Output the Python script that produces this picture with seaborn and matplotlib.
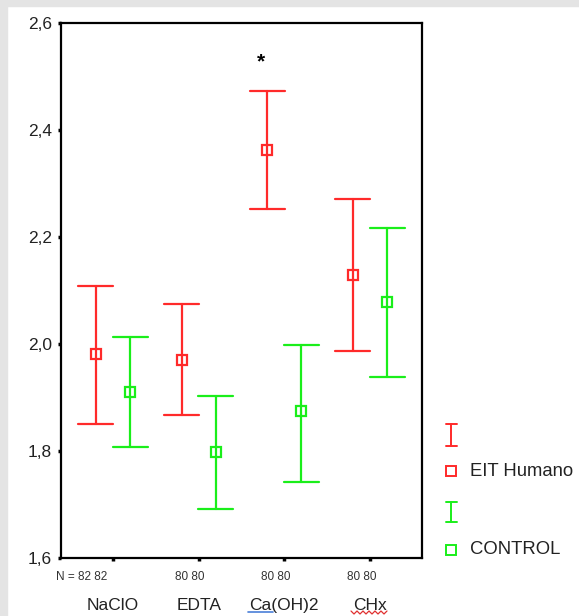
import numpy as np
import pandas as pd
import matplotlib
matplotlib.use("Agg")
import matplotlib.pyplot as plt
from matplotlib.lines import Line2D
from matplotlib.patches import Rectangle
import seaborn as sns

# ---- data ----
categories = ["NaClO", "EDTA", "Ca(OH)2", "CHx"]
groups = ["EIT Humano", "CONTROL"]
eit_mean = [1.981, 1.970, 2.363, 2.129]
eit_low = [1.850, 1.867, 2.252, 1.987]
eit_high = [2.108, 2.075, 2.473, 2.271]
ctl_mean = [1.910, 1.798, 1.875, 2.079]
ctl_low = [1.807, 1.692, 1.742, 1.938]
ctl_high = [2.013, 1.903, 1.998, 2.217]
n_labels = ["N = 82 82", "80 80", "80 80", "80 80"]
yticks = [1.6, 1.8, 2.0, 2.2, 2.4, 2.6]
ytick_labels = ["1,6", "1,8", "2,0", "2,2", "2,4", "2,6"]

# long table: low / mean / high per cell -> median = mean, 100% interval = low..high
rows = []
for g, lo, mu, hi in [(groups[0], eit_low, eit_mean, eit_high),
                      (groups[1], ctl_low, ctl_mean, ctl_high)]:
    for c, a, b, d in zip(categories, lo, mu, hi):
        for v in (a, b, d):
            rows.append({"cat": c, "group": g, "value": v})
df = pd.DataFrame(rows)

RED = "#ff2a2a"
GREEN = "#1aee1a"
palette = {groups[0]: RED, groups[1]: GREEN}

sns.set_theme(style="white")
plt.rcParams["font.family"] = ["Liberation Sans", "DejaVu Sans"]

W, H = 579, 616
fig = plt.figure(figsize=(W / 100, H / 100), dpi=100, facecolor="white")
# grey frame bands of the screenshot
fig.add_artist(Rectangle((0, 1 - 6 / H), 1, 6 / H, transform=fig.transFigure,
                         color="#e4e4e4", zorder=0))
fig.add_artist(Rectangle((0, 0), 7 / W, 1, transform=fig.transFigure,
                         color="#e4e4e4", zorder=0))

ax = fig.add_axes([61 / W, 58 / H, (422 - 61) / W, (558 - 23) / H])
ax.set_facecolor("white")

sns.pointplot(data=df, x="cat", y="value", hue="group", order=categories,
              hue_order=groups, palette=palette, estimator="median",
              errorbar=("pi", 100), dodge=0.4, markers="s", linestyles="none",
              capsize=0.41, err_kws={"linewidth": 1.6}, markersize=7.8,
              markerfacecolor="white", markeredgewidth=1.6, legend=False, ax=ax)

ax.set_xlim(-0.607, 3.607)
ax.set_ylim(1.6, 2.6)
ax.set_yticks(yticks)
ax.set_yticklabels(ytick_labels, fontsize=12.5, color="#222222")
ax.set_xticks(range(len(categories)))
ax.set_xticklabels(categories, fontsize=12.5, color="#222222")
ax.set_xlabel("")
ax.set_ylabel("")
for s in ax.spines.values():
    s.set_color("black")
    s.set_linewidth(1.6)
ax.tick_params(axis="y", direction="out", length=2.5, width=2.5, pad=4,
               left=True, colors="black", labelcolor="#222222")
ax.tick_params(axis="x", direction="out", length=2.5, width=2.5, pad=26,
               bottom=True, colors="black", labelcolor="#222222")

# N labels under the axis
for i, t in enumerate(n_labels):
    if i == 0:
        ax.text(i - 0.07, -0.036, t, transform=ax.get_xaxis_transform(),
                ha="right", va="center", fontsize=8.5, color="#333333")
    else:
        ax.text(i - 0.1, -0.036, t, transform=ax.get_xaxis_transform(),
                ha="center", va="center", fontsize=8.5, color="#333333")

# significance mark
ax.text(1.73, 2.527, "*", ha="center", va="center", fontsize=15,
        fontweight="bold", color="black")

# spell-check marks under labels (as in the screenshot)
fig.add_artist(Line2D([248 / W, 273 / W], [1 - 612 / H, 1 - 612 / H],
                      transform=fig.transFigure, color="#4a7fd8", lw=1.2))
zx = np.linspace(351, 387, 13)
zy = np.where(np.arange(13) % 2 == 0, 611, 614)
fig.add_artist(Line2D(zx / W, 1 - zy / H, transform=fig.transFigure,
                      color="#e03030", lw=0.9))

# legend drawn by hand
def fx(x):
    return x / W

def fy(y):
    return 1 - y / H

for col, y0, y1, ysq, label in [(RED, 424, 446, 471, "EIT Humano"),
                                (GREEN, 502, 522, 550, "CONTROL")]:
    fig.add_artist(Line2D([fx(451), fx(451)], [fy(y0), fy(y1)],
                          transform=fig.transFigure, color=col, lw=1.4))
    for yy in (y0, y1):
        fig.add_artist(Line2D([fx(446), fx(457)], [fy(yy), fy(yy)],
                              transform=fig.transFigure, color=col, lw=1.4))
    fig.add_artist(Line2D([fx(451)], [fy(ysq)], transform=fig.transFigure,
                          marker="s", markersize=6.5, markerfacecolor="white",
                          markeredgecolor=col, markeredgewidth=1.4,
                          linestyle="none"))
    fig.text(fx(470), fy(ysq), label, ha="left", va="center", fontsize=13.3,
             color="#222222")

fig.savefig("out.png", dpi=100, facecolor="white")
